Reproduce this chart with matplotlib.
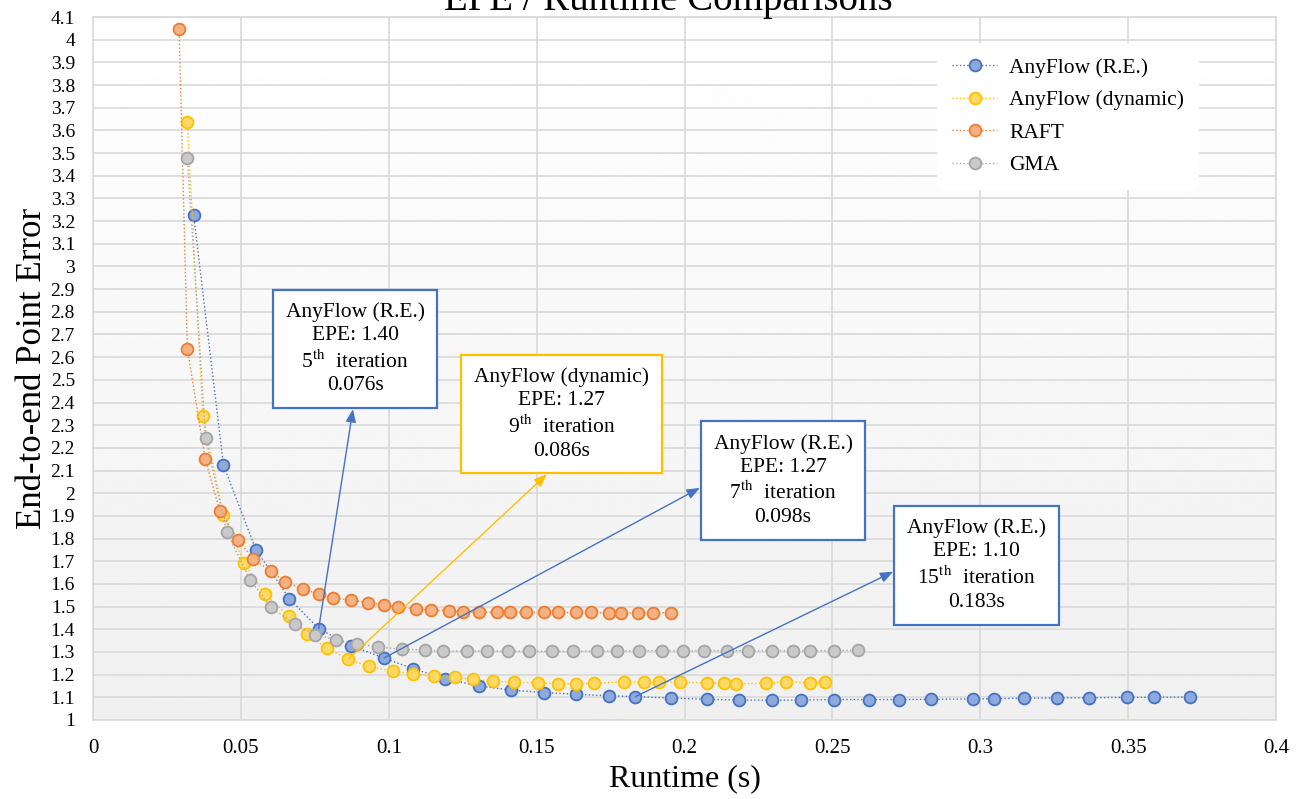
import numpy as np
import matplotlib
matplotlib.use("Agg")
import matplotlib.pyplot as plt

plt.rcParams['font.family'] = ['Liberation Serif', 'DejaVu Serif']
plt.rcParams['mathtext.fontset'] = 'stix'

# runtime (s) / EPE, one point per refinement iteration
re_runtime = [0.0340, 0.0441, 0.0551, 0.0664, 0.0763, 0.0871, 0.0984, 0.1083, 0.1191, 0.1304,
              0.1413, 0.1524, 0.1634, 0.1744, 0.1834, 0.1954, 0.2075, 0.2184, 0.2296, 0.2395,
              0.2506, 0.2625, 0.2726, 0.2835, 0.2975, 0.3048, 0.3147, 0.3258, 0.3368, 0.3497,
              0.3587, 0.3708]
re_epe = [3.228, 2.124, 1.750, 1.535, 1.403, 1.328, 1.273, 1.226, 1.181, 1.150,
          1.132, 1.121, 1.113, 1.107, 1.103, 1.097, 1.091, 1.088, 1.087, 1.088,
          1.090, 1.090, 1.090, 1.091, 1.093, 1.094, 1.096, 1.097, 1.098, 1.100,
          1.100, 1.101]

dyn_runtime = [0.0319, 0.0371, 0.0441, 0.0512, 0.0581, 0.0663, 0.0723, 0.0792, 0.0863, 0.0932,
               0.1013, 0.1083, 0.1153, 0.1224, 0.1284, 0.1354, 0.1424, 0.1505, 0.1573, 0.1634,
               0.1694, 0.1794, 0.1864, 0.1914, 0.1985, 0.2075, 0.2135, 0.2174, 0.2275, 0.2344,
               0.2425, 0.2475]
dyn_epe = [3.638, 2.340, 1.904, 1.691, 1.554, 1.457, 1.381, 1.316, 1.268, 1.237,
           1.215, 1.203, 1.194, 1.190, 1.179, 1.171, 1.166, 1.164, 1.160, 1.160,
           1.162, 1.168, 1.166, 1.168, 1.166, 1.164, 1.163, 1.160, 1.162, 1.168,
           1.164, 1.166]

raft_runtime = [0.0291, 0.0319, 0.0379, 0.0429, 0.0491, 0.0540, 0.0601, 0.0650, 0.0711, 0.0763,
                0.0811, 0.0871, 0.0931, 0.0983, 0.1031, 0.1091, 0.1143, 0.1204, 0.1252, 0.1304,
                0.1365, 0.1411, 0.1463, 0.1524, 0.1573, 0.1634, 0.1684, 0.1745, 0.1784, 0.1844,
                0.1893, 0.1954]
raft_epe = [4.047, 2.636, 2.151, 1.921, 1.794, 1.712, 1.655, 1.608, 1.578, 1.554,
            1.538, 1.529, 1.517, 1.507, 1.499, 1.490, 1.485, 1.481, 1.476, 1.475,
            1.475, 1.474, 1.474, 1.474, 1.474, 1.474, 1.474, 1.473, 1.472, 1.473,
            1.473, 1.473]

gma_runtime = [0.0319, 0.0381, 0.0452, 0.0531, 0.0601, 0.0682, 0.0752, 0.0823, 0.0893, 0.0964,
               0.1044, 0.1123, 0.1183, 0.1264, 0.1333, 0.1404, 0.1474, 0.1553, 0.1624, 0.1704,
               0.1773, 0.1845, 0.1925, 0.1994, 0.2065, 0.2145, 0.2215, 0.2296, 0.2366, 0.2425,
               0.2506, 0.2586]
gma_epe = [3.477, 2.243, 1.828, 1.619, 1.497, 1.423, 1.376, 1.353, 1.335, 1.322,
           1.312, 1.309, 1.304, 1.304, 1.304, 1.304, 1.303, 1.303, 1.303, 1.304,
           1.304, 1.306, 1.306, 1.306, 1.306, 1.306, 1.306, 1.306, 1.306, 1.306,
           1.306, 1.307]

series = [
    ('AnyFlow (R.E.)', re_runtime, re_epe, '#8EA9DB', '#4472C4'),
    ('AnyFlow (dynamic)', dyn_runtime, dyn_epe, '#FFD966', '#FFC000'),
    ('RAFT', raft_runtime, raft_epe, '#F4B183', '#ED7D31'),
    ('GMA', gma_runtime, gma_epe, '#C9C9C9', '#A5A5A5'),
]

fig = plt.figure(figsize=(13.03, 7.99), dpi=100)
ax = fig.add_axes([0.0714, 0.0989, 0.9079, 0.8798])

# soft vertical gradient behind the plot area
grad = np.linspace(0.94, 1.0, 256).reshape(-1, 1)
grad[grad > 0.995] = 1.0
ax.imshow(grad, extent=[0, 0.4, 1, 4.1], origin='lower', aspect='auto',
          cmap='gray', vmin=0, vmax=1, zorder=0)

for name, xs, ys, face, edge in series:
    ax.plot(xs, ys, linestyle=':', linewidth=1.0, color=edge, marker='o',
            markersize=8.5, markerfacecolor=face, markeredgecolor=edge,
            markeredgewidth=1.3, label=name, zorder=3)

serif = ['Liberation Serif', 'DejaVu Serif']
ax.set_xlim(0, 0.4)
ax.set_ylim(1, 4.1)
xt = np.round(np.arange(0, 0.401, 0.05), 2)
yt = np.round(np.arange(1, 4.101, 0.1), 1)
ax.set_xticks(xt)
ax.set_xticklabels(['{:g}'.format(v) for v in xt], fontsize=15, family=serif)
ax.set_yticks(yt)
ax.set_yticklabels(['{:g}'.format(v) for v in yt], fontsize=14, family=serif)
ax.tick_params(axis='y', length=0, pad=13)
ax.tick_params(axis='x', length=0, pad=14)
ax.grid(True, color='#D9D9D9', linewidth=1.2, zorder=1)
ax.set_axisbelow(True)
for s in ax.spines.values():
    s.set_color('#D9D9D9')
    s.set_linewidth(1.2)

ax.set_xlabel('Runtime (s)', fontsize=23, labelpad=4)
ax.set_ylabel('End-to-end Point Error', fontsize=25)
ax.yaxis.set_label_coords(-0.037, 0.5)
fig.text(0.513, 0.9875, 'EPE / Runtime Comparisons', fontsize=28,
         ha='center', va='baseline')

leg = ax.legend(loc='upper right', bbox_to_anchor=(0.944, 0.979), fontsize=15.5,
                frameon=True, framealpha=1, edgecolor='none', fancybox=False,
                labelspacing=0.58, handlelength=2.1, handletextpad=0.55,
                borderpad=0.7)
leg.set_zorder(5)

# callouts: (series runtime, series epe, index, box center, colour, text, arrow anchor on box)
callouts = [
    (re_runtime, re_epe, 4, (0.0886, 2.636), '#4472C4',
     'AnyFlow (R.E.)\nEPE: 1.40\n5$^{\\mathrm{th}}$  iteration\n0.076s', (0.5, 0.0)),
    (dyn_runtime, dyn_epe, 8, (0.1584, 2.349), '#FFC000',
     'AnyFlow (dynamic)\nEPE: 1.27\n9$^{\\mathrm{th}}$  iteration\n0.086s', (0.5, 0.0)),
    (re_runtime, re_epe, 6, (0.2333, 2.056), '#4472C4',
     'AnyFlow (R.E.)\nEPE: 1.27\n7$^{\\mathrm{th}}$  iteration\n0.098s', (0.0, 0.5)),
    (re_runtime, re_epe, 14, (0.2987, 1.683), '#4472C4',
     'AnyFlow (R.E.)\nEPE: 1.10\n15$^{\\mathrm{th}}$  iteration\n0.183s', (0.0, 0.5)),
]
for xs, ys, i, pos, col, txt, rel in callouts:
    ax.annotate(txt, xy=(xs[i], ys[i]), xytext=pos, textcoords='data',
                ha='center', va='center', fontsize=15.5, linespacing=1.28,
                bbox=dict(boxstyle='square,pad=0.6', fc='white', ec=col, lw=1.6),
                arrowprops=dict(arrowstyle='<|-,head_length=0.5,head_width=0.2',
                                color=col, lw=1.0, shrinkA=0, shrinkB=0,
                                relpos=rel),
                zorder=6)

fig.savefig('out.png', dpi=100)
